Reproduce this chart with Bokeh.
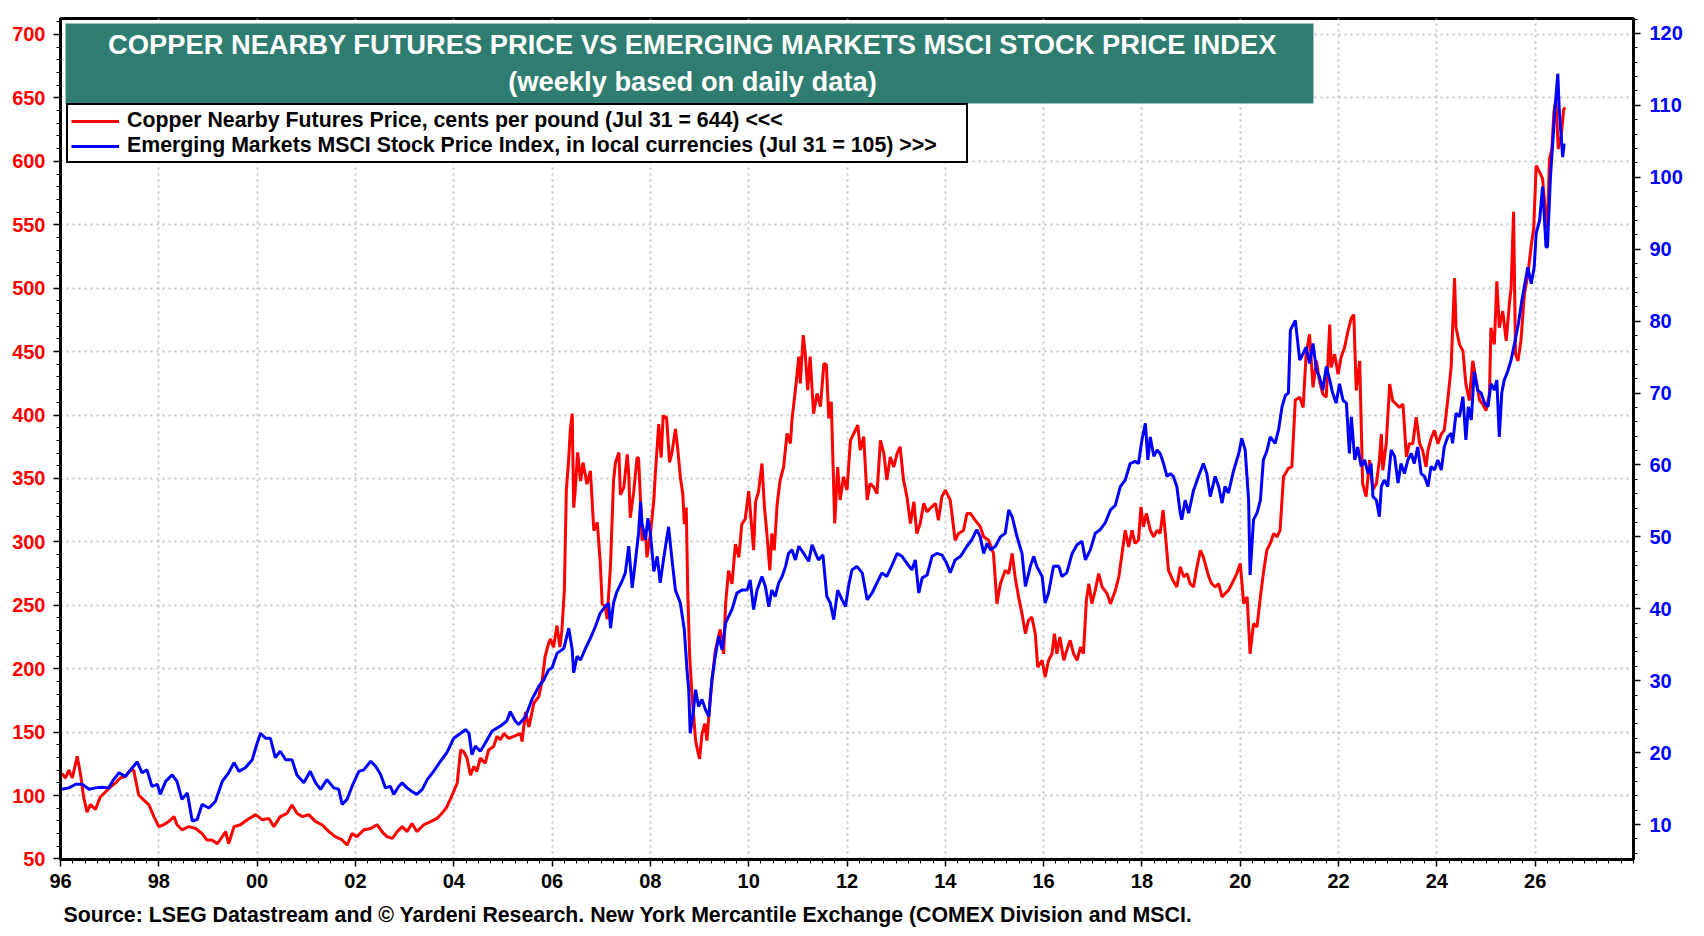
from bokeh.plotting import figure
from bokeh.models import (Range1d, LinearAxis, FixedTicker, Legend, LegendItem,
                          Label, BoxAnnotation, Title)
from bokeh.embed import file_html
from bokeh.resources import INLINE

# ---------------- data ----------------
copper_year = [
    1996.03, 1996.10, 1996.17, 1996.24, 1996.34, 1996.41, 1996.47, 1996.54, 1996.61, 1996.71,
    1996.81, 1996.92, 1997.02, 1997.12, 1997.22, 1997.32, 1997.42, 1997.49, 1997.59, 1997.69,
    1997.80, 1997.90, 1998.00, 1998.10, 1998.20, 1998.31, 1998.37, 1998.47, 1998.61, 1998.75,
    1998.88, 1998.98, 1999.08, 1999.19, 1999.29, 1999.36, 1999.42, 1999.53, 1999.66, 1999.80,
    1999.97, 2000.10, 2000.24, 2000.34, 2000.47, 2000.61, 2000.71, 2000.81, 2000.92, 2001.05,
    2001.19, 2001.32, 2001.46, 2001.59, 2001.73, 2001.83, 2001.93,
    2002.03, 2002.17, 2002.31, 2002.44, 2002.54, 2002.64, 2002.75, 2002.85, 2002.95, 2003.05,
    2003.15, 2003.25, 2003.39, 2003.53, 2003.66, 2003.76, 2003.86, 2003.97, 2004.07, 2004.14,
    2004.20, 2004.27, 2004.34, 2004.41, 2004.47, 2004.54, 2004.64, 2004.71, 2004.81, 2004.88,
    2004.95, 2005.02, 2005.12, 2005.22, 2005.36, 2005.39, 2005.46, 2005.53, 2005.63, 2005.73,
    2005.80, 2005.86, 2005.93,
    2005.97, 2006.03, 2006.10, 2006.16, 2006.20, 2006.25, 2006.29, 2006.34, 2006.37, 2006.41,
    2006.44, 2006.47, 2006.52, 2006.58, 2006.63, 2006.71, 2006.78, 2006.85, 2006.92, 2006.98,
    2007.02, 2007.08, 2007.12, 2007.19, 2007.25, 2007.29, 2007.36, 2007.39, 2007.46, 2007.53,
    2007.56, 2007.59, 2007.66, 2007.73, 2007.76, 2007.80, 2007.83, 2007.90, 2007.93, 2008.00,
    2008.07, 2008.10, 2008.17, 2008.22, 2008.26, 2008.33, 2008.39, 2008.44, 2008.51, 2008.56,
    2008.61, 2008.66, 2008.69, 2008.73, 2008.76, 2008.80, 2008.85, 2008.92, 2008.96, 2009.00,
    2009.05, 2009.11, 2009.15, 2009.22, 2009.27, 2009.32, 2009.42, 2009.49, 2009.53, 2009.59,
    2009.66, 2009.73, 2009.80, 2009.86, 2009.93, 2010.00,
    2010.10, 2010.14, 2010.20, 2010.27, 2010.32, 2010.37, 2010.43, 2010.47, 2010.52, 2010.58,
    2010.64, 2010.71, 2010.78, 2010.85, 2010.88, 2010.95, 2011.02, 2011.05, 2011.11, 2011.15,
    2011.20, 2011.25, 2011.32, 2011.39, 2011.46, 2011.53, 2011.58, 2011.63, 2011.68, 2011.75,
    2011.81, 2011.86, 2011.93, 2012.00, 2012.07, 2012.17, 2012.22, 2012.27, 2012.34, 2012.41,
    2012.47, 2012.54, 2012.61, 2012.68, 2012.75, 2012.81, 2012.88, 2012.95, 2013.02, 2013.08,
    2013.15, 2013.22, 2013.29, 2013.36, 2013.42, 2013.49, 2013.56, 2013.63, 2013.69, 2013.80,
    2013.86, 2013.93, 2014.00, 2014.10, 2014.20, 2014.27, 2014.37, 2014.44, 2014.51, 2014.61,
    2014.71, 2014.78, 2014.88, 2014.98, 2015.05, 2015.12, 2015.22, 2015.29, 2015.36, 2015.42,
    2015.49, 2015.56, 2015.63, 2015.69, 2015.76, 2015.83, 2015.88, 2015.97, 2016.03,
    2016.10, 2016.17, 2016.22, 2016.27, 2016.33, 2016.41, 2016.47, 2016.54, 2016.61, 2016.68,
    2016.75, 2016.81, 2016.87, 2016.92, 2016.98, 2017.05, 2017.12, 2017.19, 2017.29, 2017.36,
    2017.46, 2017.53, 2017.59, 2017.66, 2017.73, 2017.80, 2017.86, 2017.93, 2017.98, 2018.03,
    2018.09, 2018.17, 2018.24, 2018.31, 2018.37, 2018.43, 2018.47, 2018.54, 2018.63, 2018.71,
    2018.78, 2018.85, 2018.92, 2018.98, 2019.05, 2019.12, 2019.19, 2019.25, 2019.36, 2019.42,
    2019.49, 2019.56, 2019.63, 2019.69, 2019.76, 2019.83, 2019.93, 2020.00, 2020.07, 2020.14,
    2020.20, 2020.27, 2020.34, 2020.41, 2020.47, 2020.54, 2020.61, 2020.68, 2020.75, 2020.81,
    2020.88, 2020.98, 2021.05, 2021.12,
    2021.21, 2021.28, 2021.34, 2021.41, 2021.48, 2021.55, 2021.61, 2021.68, 2021.75, 2021.82,
    2021.85, 2021.92, 2021.99, 2022.05, 2022.12, 2022.19, 2022.26, 2022.31, 2022.36, 2022.43,
    2022.49, 2022.56, 2022.63, 2022.70, 2022.77, 2022.83, 2022.87, 2022.90, 2022.97, 2023.04,
    2023.10, 2023.17, 2023.24, 2023.31, 2023.38, 2023.44, 2023.51, 2023.58, 2023.65, 2023.71,
    2023.78, 2023.82, 2023.88, 2023.95, 2024.02, 2024.09, 2024.15, 2024.22, 2024.29, 2024.36,
    2024.39, 2024.46, 2024.53, 2024.59, 2024.66, 2024.73, 2024.80, 2024.87, 2024.93, 2025.00,
    2025.07, 2025.10, 2025.17, 2025.22, 2025.27, 2025.34, 2025.41, 2025.48, 2025.51, 2025.56,
    2025.60, 2025.65, 2025.71, 2025.78, 2025.85, 2025.92, 2025.97, 2026.02, 2026.09, 2026.15,
    2026.22, 2026.25, 2026.29, 2026.34, 2026.38, 2026.42, 2026.47, 2026.53, 2026.58, 2026.61,
]
copper_price = [
    117.6, 113.7, 120, 114, 131, 116, 99, 87, 93, 89,
    99, 103, 107, 110, 114, 115, 120, 120, 100.5, 96.6,
    92.6, 83.4, 75.5, 77, 79.5, 83.4, 77, 73, 75.5, 74,
    70, 65, 65, 62, 67.6, 71.6, 62, 75.5, 77, 81,
    85, 81, 82, 75.5, 83.4, 86, 92.6, 86, 83.4, 85,
    79.5, 77, 71.6, 67.6, 65, 61, 70,
    67.6, 73, 74, 77, 71.6, 67.6, 66.3, 71.6, 75.5, 71.6,
    78, 71.6, 77, 79.5, 82, 86, 91, 100.5, 109.7, 136,
    134.7, 129.5, 116, 123, 119, 129.5, 125.5, 136, 138.7, 146.6,
    144, 149, 145, 146.6, 149, 142.6, 166, 154, 173, 178,
    191, 210, 220,
    223.5, 217, 234, 217, 230, 261.5, 340, 366.5, 387.5, 401,
    327, 340, 370.5, 348, 362.6, 345.5, 356, 308.8, 315.4, 284,
    251, 249.7, 239, 282.5, 348, 362.6, 370.5, 337, 343, 369,
    353.4, 319, 339, 366.5, 366, 332.4, 301, 308.8, 287.8, 306,
    332.4, 353.4, 392.8, 366.5, 399.3, 398, 362.6, 370.5, 389, 372,
    351, 337.6, 314, 327, 261.5, 209, 177.6, 143.4, 135.6, 129,
    148.7, 156.6, 143.4, 177.6, 196, 214, 231, 211.7, 251, 277.3,
    266.8, 298.3, 287.8, 314, 318, 340,
    293.4, 331.6, 339.5, 361.8, 327.6, 306.6, 277.6, 306.6, 293.4, 330.3,
    348.7, 359, 385.5, 377.6, 396, 419.7, 446, 425, 463, 448.7,
    419.7, 446, 401, 417, 406.6, 440.8, 439.5, 397.4, 410.5, 314.5,
    359, 333, 351.3, 340.8, 380, 388, 392, 372.4, 383, 333,
    346, 343.4, 338, 380, 369.7, 348.7, 367, 359, 369.7, 375,
    348.7, 335.5, 314.5, 331.6, 306.6, 314.5, 330.3, 323.7, 326.3, 330.3,
    317, 335.5, 340.8, 333, 301.3, 306.6, 309, 322.4, 322.4, 317,
    312, 304, 301.3, 290.8, 251.3, 267, 277.6, 275, 290.8, 272.4,
    256.6, 243.4, 227.6, 238, 240.8, 227.6, 201.3, 206.6, 193.4,
    206.6, 211.8, 227.6, 211.8, 225, 206.6, 214.5, 222.4, 211.8, 206.6,
    217, 211.8, 254, 267, 251.3, 261.8, 275, 264.5, 259.2, 251.3,
    261.8, 272.4, 289.5, 309.2, 296, 309.2, 298.7, 301.3, 327.6, 311.8,
    322.4, 309.2, 304, 309.2, 306.6, 325, 309.2, 277.6, 269.7, 264.5,
    280.3, 272.4, 275, 267, 264.5, 280.3, 293.4, 288, 272.4, 267,
    264.5, 267, 256.6, 259.2, 261.8, 267, 275, 283, 251.3, 256.6,
    211.8, 235.5, 233, 256.6, 275, 293.4, 298.7, 306.6, 304, 309.2,
    351.3, 358, 359.2, 411.8,
    414, 406, 448, 463.6, 421.8, 442.7, 427, 416.6, 414, 471.4,
    437.5, 448, 432.2, 445.3, 453, 466, 476.6, 479, 419.2, 442.7,
    346, 335.6, 364.4, 341, 346, 364.4, 385, 356.5, 377.4, 424.4,
    411.4, 408.7, 406, 408.7, 367, 377.4, 377.4, 398.3, 377.4, 372.2,
    359.1, 372.2, 381.3, 387.9, 377.4, 385, 387.9, 411.4, 437.5, 508,
    468.8, 455.7, 450.5, 424.4, 411.4, 442.7, 427, 411.4, 408.7, 403.5,
    416.6, 468.8, 455.7, 505.4, 468.8, 481.9, 458.4, 489.7, 500.1, 560.2,
    447.9, 442.7, 458.4, 495, 510.6, 534, 547, 596.7, 591.5, 586.3,
    555, 547, 601.8, 609.8, 638.5, 649, 609.8, 620.2, 641, 642.4,
]

em_year = [
    1996.03, 1996.17, 1996.31, 1996.44, 1996.58, 1996.71, 1996.85, 1996.98, 1997.08, 1997.19,
    1997.32, 1997.46, 1997.56, 1997.66, 1997.76, 1997.86, 1997.97, 1998.03, 1998.14, 1998.27,
    1998.37, 1998.47, 1998.58, 1998.68, 1998.78, 1998.88, 1999.02, 1999.15, 1999.29, 1999.42,
    1999.53, 1999.63, 1999.76, 1999.90, 2000.00, 2000.07, 2000.17, 2000.27, 2000.37, 2000.47,
    2000.58, 2000.71, 2000.81, 2000.95, 2001.08, 2001.19, 2001.29, 2001.42, 2001.56, 2001.66,
    2001.73, 2001.83, 2001.93,
    2002.07, 2002.17, 2002.31, 2002.41, 2002.51, 2002.61, 2002.71, 2002.78, 2002.88, 2002.95,
    2003.05, 2003.15, 2003.25, 2003.36, 2003.46, 2003.59, 2003.73, 2003.86, 2004.00, 2004.14,
    2004.24, 2004.31, 2004.37, 2004.44, 2004.54, 2004.64, 2004.78, 2004.95, 2005.08, 2005.15,
    2005.25, 2005.32, 2005.46, 2005.59, 2005.73, 2005.83, 2005.93,
    2006.00, 2006.10, 2006.24, 2006.34, 2006.41, 2006.44, 2006.51, 2006.58, 2006.68, 2006.78,
    2006.88, 2006.98, 2007.08, 2007.15, 2007.19, 2007.25, 2007.32, 2007.42, 2007.49, 2007.56,
    2007.63, 2007.69, 2007.76, 2007.80, 2007.83, 2007.90, 2007.95, 2008.00, 2008.07, 2008.14,
    2008.20, 2008.27, 2008.37, 2008.44, 2008.51, 2008.61, 2008.69, 2008.75, 2008.78, 2008.81,
    2008.87, 2008.92, 2008.98, 2009.05, 2009.12, 2009.19, 2009.25, 2009.32, 2009.39, 2009.46,
    2009.53, 2009.59, 2009.66, 2009.76, 2009.86, 2009.97,
    2010.03, 2010.10, 2010.17, 2010.27, 2010.34, 2010.41, 2010.47, 2010.54, 2010.61, 2010.68,
    2010.75, 2010.81, 2010.88, 2010.95, 2011.02, 2011.12, 2011.22, 2011.29, 2011.36, 2011.42,
    2011.51, 2011.59, 2011.66, 2011.73, 2011.81, 2011.90, 2011.97, 2012.03, 2012.10, 2012.20,
    2012.31, 2012.41, 2012.51, 2012.61, 2012.71, 2012.81, 2012.92, 2013.02, 2013.12, 2013.22,
    2013.32, 2013.39, 2013.46, 2013.53, 2013.63, 2013.73, 2013.83, 2013.93, 2014.03, 2014.10,
    2014.20, 2014.31, 2014.44, 2014.54, 2014.64, 2014.71, 2014.78, 2014.85, 2014.92, 2015.02,
    2015.12, 2015.22, 2015.29, 2015.36, 2015.46, 2015.56, 2015.63, 2015.73, 2015.80, 2015.86,
    2015.97, 2016.03,
    2016.10, 2016.20, 2016.31, 2016.37, 2016.47, 2016.58, 2016.68, 2016.78, 2016.85, 2016.95,
    2017.05, 2017.15, 2017.25, 2017.36, 2017.46, 2017.56, 2017.66, 2017.76, 2017.86, 2017.93,
    2018.00, 2018.07, 2018.12, 2018.17, 2018.24, 2018.31, 2018.37, 2018.44, 2018.51, 2018.58,
    2018.64, 2018.71, 2018.78, 2018.81, 2018.88, 2018.95, 2019.05, 2019.15, 2019.25, 2019.32,
    2019.39, 2019.49, 2019.56, 2019.63, 2019.69, 2019.76, 2019.86, 2019.97, 2020.03, 2020.10,
    2020.17, 2020.20, 2020.27, 2020.34, 2020.41, 2020.47, 2020.54, 2020.61, 2020.71, 2020.78,
    2020.85, 2020.92, 2020.98, 2021.02, 2021.12,
    2021.21, 2021.28, 2021.34, 2021.41, 2021.48, 2021.55, 2021.61, 2021.68, 2021.75, 2021.82,
    2021.88, 2021.95, 2022.02, 2022.09, 2022.16, 2022.22, 2022.26, 2022.33, 2022.39, 2022.46,
    2022.53, 2022.60, 2022.66, 2022.70, 2022.77, 2022.83, 2022.87, 2022.93, 2023.00, 2023.07,
    2023.14, 2023.21, 2023.27, 2023.34, 2023.41, 2023.48, 2023.54, 2023.61, 2023.68, 2023.75,
    2023.82, 2023.88, 2023.95, 2024.02, 2024.09, 2024.15, 2024.22, 2024.29, 2024.32, 2024.39,
    2024.46, 2024.53, 2024.59, 2024.64, 2024.70, 2024.76, 2024.83, 2024.90, 2024.97, 2025.04,
    2025.10, 2025.17, 2025.22, 2025.27, 2025.32, 2025.37, 2025.44, 2025.51, 2025.58, 2025.66,
    2025.73, 2025.78, 2025.85, 2025.92, 2025.98, 2026.02, 2026.09, 2026.15, 2026.19, 2026.22,
    2026.25, 2026.31, 2026.36, 2026.40, 2026.46, 2026.49, 2026.53, 2026.56, 2026.59,
]
em_index = [
    14.9, 15.1, 15.6, 15.6, 14.9, 15.1, 15.2, 15.1, 16.25, 17.2,
    16.7, 17.9, 18.7, 17.2, 17.6, 15.3, 15.6, 14.2, 16.0, 16.9,
    16.0, 13.5, 14.4, 10.5, 10.7, 12.8, 12.3, 13.2, 16.0, 17.2,
    18.6, 17.4, 17.9, 19.0, 21.3, 22.7, 22.0, 22.0, 19.3, 20.2,
    19.0, 19.0, 16.9, 15.8, 17.4, 15.8, 14.9, 16.25, 15.1, 14.9,
    12.8, 13.5, 15.3,
    17.4, 17.6, 18.8, 18.1, 17.0, 15.1, 15.3, 14.2, 15.3, 15.8,
    15.1, 14.6, 14.2, 14.9, 16.25, 17.4, 18.8, 20.0, 22.0, 22.7,
    23.2, 22.7, 19.7, 20.9, 20.2, 21.3, 23.0, 23.7, 24.4, 25.7,
    24.4, 23.9, 25.0, 27.4, 29.2, 30.1, 31.5,
    31.8, 33.8, 34.5, 37.3, 34.3, 31.1, 33.4, 32.9, 34.5, 35.9,
    37.5, 39.4, 40.3, 40.8, 37.3, 40.8, 42.4, 43.8, 45.0, 48.7,
    42.9, 46.3, 50.5, 54.9, 51.9, 49.6, 52.6, 50.5, 45.2, 47.3,
    43.6, 47.0, 51.4, 46.8, 42.6, 40.8, 37.1, 31.1, 28.75, 22.7,
    25.5, 28.75, 26.4, 27.4, 26.0, 25.0, 30.1, 33.4, 36.2, 34.3,
    38.0, 38.9, 39.9, 42.2, 42.6, 42.6,
    44.0, 39.9, 42.6, 44.5, 43.1, 40.3, 42.6, 41.7, 43.6, 44.5,
    45.9, 47.7, 48.2, 46.8, 48.7, 47.7, 46.6, 48.9, 47.7, 46.8,
    47.5, 41.7, 40.8, 38.5, 42.6, 41.25, 40.3, 43.1, 45.4, 45.9,
    45.0, 41.25, 42.2, 43.6, 45.0, 44.5, 46.1, 47.7, 47.3, 46.3,
    45.4, 46.8, 42.2, 44.3, 44.7, 47.3, 47.7, 47.5, 46.3, 45.0,
    46.8, 47.3, 48.7, 49.6, 51.0, 50.0, 47.7, 49.1, 48.2, 48.7,
    50.0, 50.5, 53.75, 52.8, 50.0, 47.7, 43.1, 45.9, 47.3, 45.9,
    44.5, 40.8,
    42.2, 45.9, 45.9, 44.5, 45.0, 47.7, 48.9, 49.4, 46.8, 48.2,
    50.5, 51.0, 51.9, 53.75, 54.4, 57.0, 57.9, 60.2, 60.5, 60.2,
    63.5, 65.8, 60.7, 63.9, 61.2, 62.1, 61.6, 60.2, 58.4, 58.8,
    58.4, 57.0, 53.3, 52.4, 55.1, 53.3, 56.5, 58.4, 60.2, 58.8,
    55.6, 58.4, 57.0, 54.7, 57.0, 56.1, 59.1, 61.6, 63.7, 62.1,
    55.1, 44.7, 52.4, 53.3, 55.1, 60.7, 61.9, 63.9, 63.0, 64.9,
    68.1, 69.7, 70.0, 78.75, 80.1,
    74.6, 75.5, 76.4, 74.1, 76.9, 73.2, 72.3, 70.4, 73.7, 71.8,
    70.0, 68.6, 71.3, 69.0, 68.6, 61.6, 66.7, 60.7, 62.5, 59.8,
    60.7, 58.8, 60.2, 55.6, 55.1, 52.8, 57.0, 57.9, 57.0, 62.1,
    61.2, 57.5, 60.2, 58.8, 60.7, 61.6, 60.2, 62.5, 58.8, 58.4,
    57.0, 59.8, 59.3, 60.7, 59.3, 62.5, 63.9, 64.4, 63.0, 67.2,
    66.7, 69.5, 63.5, 68.1, 66.25, 73.0, 70.4, 70.0, 68.6, 68.1,
    71.3, 70.4, 71.8, 63.9, 70.0, 71.8, 73.0, 74.6, 76.9, 79.7,
    82.9, 84.8, 87.5, 85.2, 87.5, 92.2, 94.0, 98.7, 94.0, 90.3,
    90.3, 100.0, 105.1, 109.3, 114.4, 109.3, 105.6, 102.8, 104.7,
]

x_tick_years = [1996, 1998, 2000, 2002, 2004, 2006, 2008, 2010, 2012, 2014,
                2016, 2018, 2020, 2022, 2024, 2026]
x_tick_labels = ["96", "98", "00", "02", "04", "06", "08", "10", "12", "14",
                 "16", "18", "20", "22", "24", "26"]
left_ticks = [50, 100, 150, 200, 250, 300, 350, 400, 450, 500, 550, 600, 650, 700]
right_ticks = [10, 20, 30, 40, 50, 60, 70, 80, 90, 100, 110, 120]

title_line1 = "COPPER NEARBY FUTURES PRICE VS EMERGING MARKETS MSCI STOCK PRICE INDEX"
title_line2 = "(weekly based on daily data)"
copper_label = "Copper Nearby Futures Price, cents per pound (Jul 31 = 644) <<<"
em_label = "Emerging Markets MSCI Stock Price Index, in local currencies (Jul 31 = 105) >>>"
footer_text = "Source: LSEG Datastream and \u00a9 Yardeni Research. New York Mercantile Exchange (COMEX Division and MSCI."

# ---------------- layout ----------------
FONT = "Liberation Sans"
X0, X1 = 1996.0, 2028.0
YL0, YL1 = 49.6, 712.6
YR0, YR1 = 5.14, 122.08
W, H = 1700, 936
FL, FT, FR, FB = 60, 18, 1633, 860
FW, FH = FR - FL, FB - FT
TEAL = "#2e7d70"


def fx(px):
    return X0 + px * (X1 - X0) / FW


def fy(py):
    return YL1 - py * (YL1 - YL0) / FH


p = figure(width=W, height=H, x_range=Range1d(X0, X1), y_range=Range1d(YL0, YL1),
           output_backend="svg", toolbar_location=None,
           min_border_left=FL, min_border_top=FT, min_border_right=W - FR,
           min_border_bottom=H - FB)
p.extra_y_ranges = {"em": Range1d(YR0, YR1)}
p.background_fill_color = "white"
p.border_fill_color = "white"
p.outline_line_color = "black"
p.outline_line_width = 3

# x axis
xax = p.xaxis[0]
xax.ticker = FixedTicker(ticks=x_tick_years,
                         minor_ticks=[1996 + 0.25 * q for q in range(0, 129)])
xax.major_label_overrides = {y: l for y, l in zip(x_tick_years, x_tick_labels)}
xax.major_label_text_font = FONT
xax.major_label_text_font_style = "bold"
xax.major_label_text_font_size = "20px"
xax.major_label_text_color = "black"
xax.major_label_standoff = 7
xax.axis_line_width = 3
xax.axis_line_color = "black"
xax.major_tick_in = 0
xax.major_tick_out = 7
xax.minor_tick_in = 0
xax.minor_tick_out = 4
xax.major_tick_line_width = 1.5
xax.minor_tick_line_width = 1

# left axis
yax = p.yaxis[0]
yax.ticker = FixedTicker(ticks=left_ticks, minor_ticks=list(range(50, 711, 10)))
yax.major_label_text_font = FONT
yax.major_label_text_font_style = "bold"
yax.major_label_text_font_size = "20px"
yax.major_label_text_color = "#ff0000"
yax.major_label_standoff = 8
yax.axis_line_width = 3
yax.axis_line_color = "black"
yax.major_tick_in = 0
yax.major_tick_out = 7
yax.minor_tick_in = 0
yax.minor_tick_out = 4
yax.major_tick_line_width = 1.5
yax.minor_tick_line_width = 1

# right axis
rax = LinearAxis(y_range_name="em",
                 ticker=FixedTicker(ticks=right_ticks, minor_ticks=list(range(6, 123, 2))))
rax.major_label_text_font = FONT
rax.major_label_text_font_style = "bold"
rax.major_label_text_font_size = "20px"
rax.major_label_text_color = "#0000ff"
rax.major_label_standoff = 9
rax.axis_line_width = 3
rax.axis_line_color = "black"
rax.major_tick_in = 0
rax.major_tick_out = 7
rax.minor_tick_in = 0
rax.minor_tick_out = 4
rax.major_tick_line_width = 1.5
rax.minor_tick_line_width = 1
p.add_layout(rax, "right")

# grids
p.xgrid.ticker = FixedTicker(ticks=x_tick_years)
p.ygrid.ticker = FixedTicker(ticks=left_ticks)
for g in (p.xgrid[0], p.ygrid[0]):
    g.grid_line_color = "#c4c4c4"
    g.grid_line_width = 2
    g.grid_line_dash = "2 4"

# series
r_cu = p.line(copper_year, copper_price, line_color="#ff0000", line_width=3)
r_em = p.line(em_year, em_index, line_color="#0000ff", line_width=3, y_range_name="em")

# title box
p.add_layout(BoxAnnotation(left=fx(5), right=fx(1253), top=fy(5), bottom=fy(85),
                           fill_color=TEAL, fill_alpha=1.0,
                           line_color="#a9c9c1", line_width=1))
p.add_layout(Label(x=fx(632), y=fy(26), text=title_line1, text_align="center",
                   text_baseline="alphabetic", text_color="white", text_font=FONT,
                   text_font_style="bold", text_font_size="27.3px"))
p.add_layout(Label(x=fx(632), y=fy(63), text=title_line2, text_align="center",
                   text_baseline="alphabetic", text_color="white", text_font=FONT,
                   text_font_style="bold", text_font_size="27.3px"))

# legend
legend = Legend(items=[LegendItem(label=copper_label, renderers=[r_cu]),
                       LegendItem(label=em_label, renderers=[r_em])],
                location=(6, 696))
legend.label_text_font = FONT
legend.label_text_font_style = "bold"
legend.label_text_font_size = "21.3px"
legend.label_text_color = "black"
legend.glyph_width = 48
legend.glyph_height = 20
legend.label_height = 20
legend.label_width = 836
legend.label_standoff = 8
legend.padding = 3
legend.spacing = 0
legend.margin = 0
legend.border_line_color = "black"
legend.border_line_alpha = 1.0
legend.border_line_width = 2.5
legend.background_fill_color = "white"
legend.background_fill_alpha = 1.0
p.add_layout(legend)

# footer
footer = Title(text=footer_text, align="left", offset=3, standoff=20,
               text_font=FONT, text_font_style="bold", text_font_size="21.3px",
               text_color="black")
p.add_layout(footer, "below")

open("out.html", "w").write(file_html(p, INLINE))
